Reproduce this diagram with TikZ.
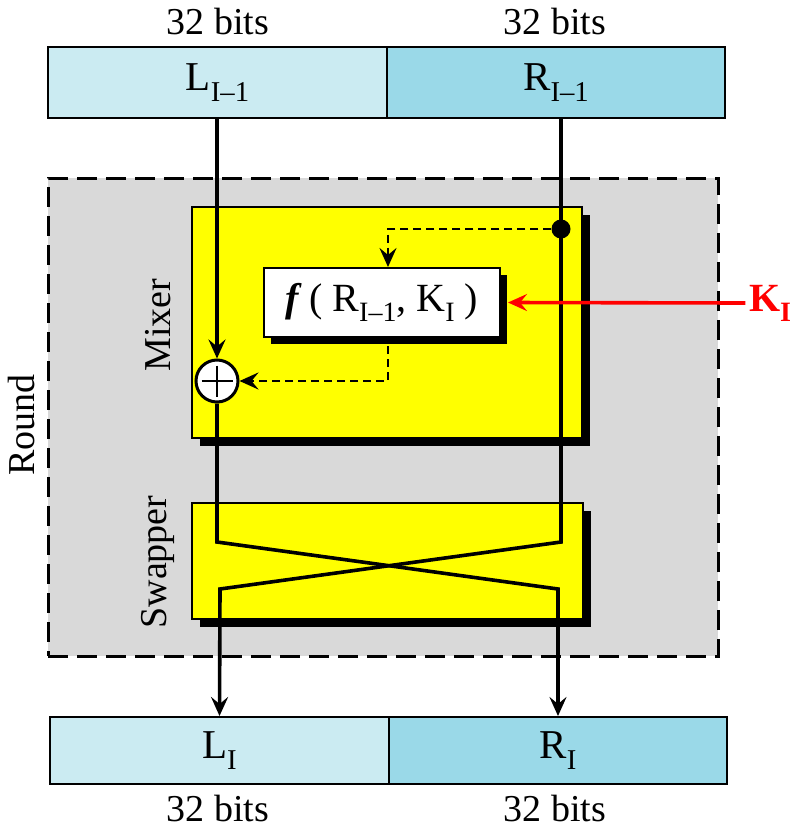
\documentclass[tikz,border=0pt]{standalone}
\usepackage{fontspec}
\setmainfont{Liberation Serif}
\usetikzlibrary{arrows.meta,calc}
\definecolor{lcyan}{RGB}{203,235,242}
\definecolor{dcyan}{RGB}{154,217,232}
\definecolor{rgray}{RGB}{217,217,217}
\definecolor{pyellow}{RGB}{255,255,0}
\newcommand\sbs[1]{\raisebox{-0.25em}{\scalebox{0.7}{#1}}}
\begin{document}
\begin{tikzpicture}[x=1pt,y=-1pt,
  box/.style={draw=black, line width=2pt, rectangle, inner sep=0pt},
  wire/.style={line width=3.6pt, black},
  arr/.style={-{Stealth[length=19pt,width=17pt,inset=7pt]}},
  dwire/.style={line width=2.8pt, dash pattern=on 8pt off 5pt},
  lbl/.style={font=\fontsize{38}{44}\selectfont},
  big/.style={font=\fontsize{41}{46}\selectfont},
  shadow/.style={fill=black}
]
\useasboundingbox (0,0) rectangle (792,838);
% round
\node[draw, fill=rgray, line width=3pt, dash pattern=on 20pt off 9pt,
  minimum width=670pt, minimum height=478pt, inner sep=0pt] (round) at (383,417) {};
\node[rotate=90, lbl] (roundlbl) at (22,425) {Round};
% top boxes
\node[box, fill=lcyan, minimum width=339pt, minimum height=71pt, big] (topL) at (217.5,82.5) {L\sbs{I–1}};
\node[box, fill=dcyan, minimum width=338pt, minimum height=71pt, big] (topR) at (556,82.5) {R\sbs{I–1}};
\node[lbl] (tbl) at (218,22) {32 bits};
\node[lbl] (tbr) at (555,22) {32 bits};
% bottom boxes
\node[box, fill=lcyan, minimum width=339pt, minimum height=67pt, big] (botL) at (219.5,750.5) {L\sbs{I}};
\node[box, fill=dcyan, minimum width=338pt, minimum height=67pt, big] (botR) at (558,750.5) {R\sbs{I}};
\node[lbl] (bbl) at (218,808) {32 bits};
\node[lbl] (bbr) at (555,808) {32 bits};
% mixer
\fill[shadow] (200,215) rectangle (590,446);
\node[box, fill=pyellow, minimum width=390pt, minimum height=231pt] (mixer) at (387,322.5) {};
\node[rotate=90, lbl] (mixlbl) at (158,325) {Mixer};
% f box
\fill[shadow] (271,275) rectangle (507,344);
\node[box, fill=white, minimum width=236pt, minimum height=69pt, font=\fontsize{40}{46}\selectfont] (f) at (382,302.5) {\textbf{\textit{f}}\,( R\sbs{I–1}, K\sbs{I} )};
% swapper
\fill[shadow] (200,511) rectangle (591,627);
\node[box, fill=pyellow, minimum width=391pt, minimum height=116pt] (swap) at (387.5,561) {};
\node[rotate=90, lbl] (swaplbl) at (158,562) {Swapper};
% xor and dot
\node[circle, draw, line width=3pt, fill=white, minimum size=42pt, inner sep=0pt] (xor) at (217,381) {};
\draw[line width=2.8pt] ($(xor.west)+(7,0)$) -- ($(xor.east)-(7,0)$);
\draw[line width=2.8pt] ($(xor.north)+(0,7)$) -- ($(xor.south)-(0,7)$);
\node[circle, fill=black, minimum size=19pt, inner sep=0pt] (dot) at (561,229) {};
% wires
\coordinate (la) at (217,542);
\coordinate (lb) at (558,589);
\coordinate (ra) at (561,542);
\coordinate (rb) at (220,589);
\draw[wire, arr] (topL.south -| xor) -- (xor.north);
\draw[wire, arr] (xor.south) -- (la) -- (lb) -- (botR.north);
\draw[wire, arr] (topR.south -| dot) -- (ra) -- (rb) -- (botL.north);
\draw[dwire, arr] (dot.west) -| ($(f.north)+(6,0)$);
\draw[dwire, arr] ($(f.south)+(6,8)$) |- (xor.east);
% key
\node[text=red, font=\bfseries\fontsize{40}{46}\selectfont] (K) at (770,303) {K\sbs{I}};
\draw[red, line width=3.6pt, arr] (K.west) -- ($(f.east)+(7,0)$);
\end{tikzpicture}
\end{document}
